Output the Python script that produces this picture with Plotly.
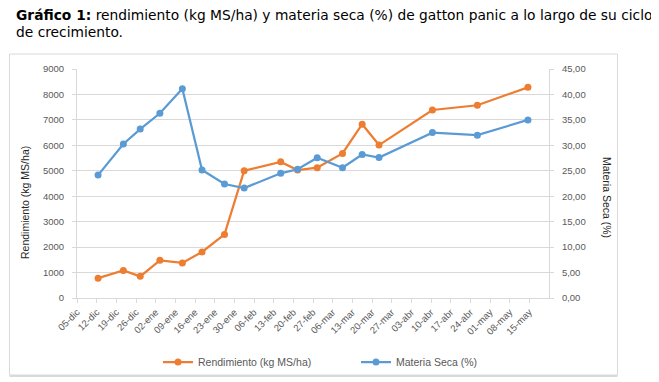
import plotly.graph_objects as go
import pandas as pd

# ---- data ----
fechas = ["2016-12-12", "2016-12-21", "2016-12-27", "2017-01-03", "2017-01-11",
          "2017-01-18", "2017-01-26", "2017-02-02", "2017-02-15", "2017-02-21",
          "2017-02-28", "2017-03-09", "2017-03-16", "2017-03-22", "2017-04-10",
          "2017-04-26", "2017-05-14"]
rendimiento = [780, 1080, 850, 1480, 1380, 1810, 2500, 5000, 5350, 5030,
               5120, 5680, 6830, 6010, 7390, 7575, 8280]
materia_seca = [24.15, 30.26, 33.2, 36.3, 41.14, 25.14, 22.4, 21.6, 24.5, 25.3,
                27.56, 25.6, 28.2, 27.6, 32.5, 32.0, 35.0]
tick_labels = ["05-dic", "12-dic", "19-dic", "26-dic", "02-ene", "09-ene", "16-ene",
               "23-ene", "30-ene", "06-feb", "13-feb", "20-feb", "27-feb", "06-mar",
               "13-mar", "20-mar", "27-mar", "03-abr", "10-abr", "17-abr", "24-abr",
               "01-may", "08-may", "15-may"]

ORANGE = "#ED7D31"
BLUE = "#5B9BD5"
GRID = "#d9d9d9"
TXT = "#595959"
FONT = "Liberation Sans"

x = pd.to_datetime(fechas) + pd.Timedelta(hours=12)  # centre of each day slot
tick_vals = pd.date_range("2016-12-05", periods=len(tick_labels), freq="7D")

fig = go.Figure()
fig.add_trace(go.Scatter(x=x, y=rendimiento, name="Rendimiento (kg MS/ha)",
                         mode="lines+markers", yaxis="y",
                         line=dict(color=ORANGE, width=2.25),
                         marker=dict(color=ORANGE, size=7)))
fig.add_trace(go.Scatter(x=x, y=materia_seca, name="Materia Seca (%)",
                         mode="lines+markers", yaxis="y2",
                         line=dict(color=BLUE, width=2.25),
                         marker=dict(color=BLUE, size=7)))

OFF = 8  # page body margin
W, H = 659 - OFF, 382 - OFF
L, R, T, B = 69, 110, 61, 84
pw, ph = W - L - R, H - T - B

def px(xp):  # page pixel -> paper x
    return (xp - OFF - L) / pw

def py(yp):  # page pixel -> paper y
    return (H - B - (yp - OFF)) / ph

fig.update_layout(
    width=W, height=H,
    margin=dict(l=L, r=R, t=T, b=B, pad=0, autoexpand=False),
    paper_bgcolor="white", plot_bgcolor="white",
    separators=",.",
    font=dict(family=FONT, size=10, color=TXT),
    xaxis=dict(
        type="date", range=["2016-12-05", "2017-05-22"],
        tickmode="array", tickvals=tick_vals, ticktext=tick_labels,
        tickangle=-45, tickfont=dict(size=9.5, color=TXT),
        showgrid=False, zeroline=False,
        showline=True, linecolor=GRID, linewidth=1,
        ticks="outside", ticklen=4, tickcolor=GRID,
    ),
    yaxis=dict(
        range=[0, 9000], dtick=1000, tickformat="d",
        showgrid=True, gridcolor=GRID, gridwidth=1, zeroline=False,
        showline=True, linecolor=GRID, linewidth=1,
        ticks="outside", ticklen=4, tickcolor=GRID,
        tickfont=dict(size=9.5, color=TXT), ticklabelstandoff=6,
    ),
    yaxis2=dict(
        range=[0, 45], dtick=5, tickformat=".2f", overlaying="y", side="right",
        showgrid=False, zeroline=False,
        showline=True, linecolor=GRID, linewidth=1,
        ticks="outside", ticklen=4, tickcolor=GRID,
        tickfont=dict(size=9.5, color=TXT), ticklabelstandoff=6,
    ),
    legend=dict(
        orientation="h", xref="container", yref="container",
        x=(158 - OFF) / W, xanchor="left", y=(H - (362 - OFF)) / H, yanchor="middle",
        font=dict(size=10.5, color=TXT), entrywidth=153, entrywidthmode="pixels",
        bgcolor="rgba(0,0,0,0)",
    ),
    showlegend=True,
)

# chart border
fig.add_shape(type="rect", xref="paper", yref="paper",
              x0=px(9.5), x1=px(617.5), y0=py(375), y1=py(54),
              line=dict(color=GRID, width=1), layer="below")
fig.add_shape(type="line", xref="paper", yref="paper",
              x0=px(9.5), x1=px(617.5), y0=py(376), y1=py(376),
              line=dict(color=GRID, width=2), layer="below")

# axis titles
fig.add_annotation(text="Rendimiento (kg MS/ha)", xref="paper", yref="paper",
                   x=px(25), y=py(203), xanchor="center", yanchor="middle",
                   textangle=-90, showarrow=False,
                   font=dict(family=FONT, size=10.5, color="#262626"))
fig.add_annotation(text="Materia Seca (%)", xref="paper", yref="paper",
                   x=px(607), y=py(197), xanchor="center", yanchor="middle",
                   textangle=90, showarrow=False,
                   font=dict(family=FONT, size=10.5, color="#262626"))

# caption above the chart (two lines)
CAP_FONT = dict(family="DejaVu Sans", size=13.8, color="#000000")
fig.add_annotation(
    text="<b>Gráfico 1:</b> rendimiento (kg MS/ha) y materia seca (%) de gatton panic a lo largo de su ciclo",
    xref="paper", yref="paper", x=px(14), y=py(15), xanchor="left", yanchor="middle",
    align="left", showarrow=False, font=CAP_FONT)
fig.add_annotation(
    text="de crecimiento.",
    xref="paper", yref="paper", x=px(14), y=py(32), xanchor="left", yanchor="middle",
    align="left", showarrow=False, font=CAP_FONT)

fig.write_html("out.html")
